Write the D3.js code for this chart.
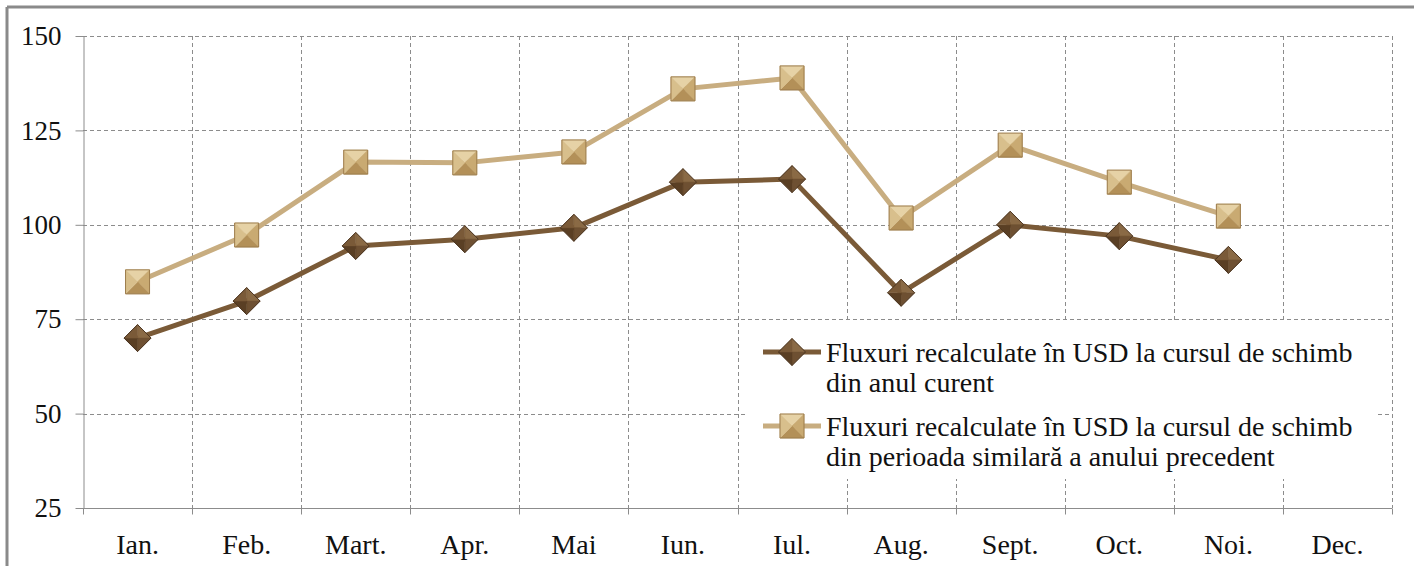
<!DOCTYPE html>
<html>
<head>
<meta charset="utf-8">
<script src="https://cdn.jsdelivr.net/npm/d3@7"></script>
<style>
  body { margin: 0; background: #fff; }
  text { font-family: "Liberation Serif", "Times New Roman", serif; fill: #111; }
</style>
</head>
<body>
<div id="chart"></div>
<script>
// data
const months = ["Ian.", "Feb.", "Mart.", "Apr.", "Mai", "Iun.", "Iul.", "Aug.", "Sept.", "Oct.", "Noi.", "Dec."];
const curentValues = [70.0, 79.8, 94.4, 96.2, 99.2, 111.3, 112.1, 82.0, 100.0, 97.0, 90.7];
const precedentValues = [84.9, 97.3, 116.6, 116.4, 119.3, 136.0, 138.9, 101.8, 121.1, 111.3, 102.3];
const yTicks = [25, 50, 75, 100, 125, 150];
const seriesNames = [
    ["Fluxuri recalculate în USD la cursul de schimb", "din anul curent"],
    ["Fluxuri recalculate în USD la cursul de schimb", "din perioada similară a anului precedent"]
];

const width = 1414, height = 566;
const margin = {top: 36, right: 22, bottom: 58, left: 83};

const svg = d3.select("#chart").append("svg")
    .attr("width", width)
    .attr("height", height);

// outer frame (only top and left edge visible in the crop)
svg.append("line").attr("x1", 7).attr("y1", 7).attr("x2", width).attr("y2", 7)
    .attr("stroke", "#8a8a8a").attr("stroke-width", 3);
svg.append("line").attr("x1", 7).attr("y1", 7).attr("x2", 7).attr("y2", height)
    .attr("stroke", "#8a8a8a").attr("stroke-width", 3);

let xScale = d3.scaleBand()
    .domain(months)
    .range([margin.left, width - margin.right])
    .padding(0);

let yScale = d3.scaleLinear()
    .domain([25, 150])
    .range([height - margin.bottom, margin.top]);

const x0 = margin.left, x1 = width - margin.right;
const y0 = height - margin.bottom, y1 = margin.top;

// horizontal grid
let grid = svg.append("g").attr("id", "grid");
grid.selectAll(".hgrid").data(yTicks.filter(d => d > 25)).enter().append("line")
    .attr("class", "hgrid")
    .attr("x1", x0).attr("x2", x1)
    .attr("y1", d => Math.round(yScale(d)) + 0.5)
    .attr("y2", d => Math.round(yScale(d)) + 0.5)
    .attr("stroke", "#8c8c8c").attr("stroke-width", 1)
    .style("stroke-dasharray", "4,3");

// vertical grid at category boundaries
const bounds = months.map(m => xScale(m)).concat([x1]).slice(1);
grid.selectAll(".vgrid").data(bounds).enter().append("line")
    .attr("class", "vgrid")
    .attr("x1", d => Math.round(d) + 0.5).attr("x2", d => Math.round(d) + 0.5)
    .attr("y1", y1).attr("y2", y0)
    .attr("stroke", "#8c8c8c").attr("stroke-width", 1)
    .style("stroke-dasharray", "4,3");

// axes
let yAxis = d3.axisLeft(yScale).tickValues(yTicks).tickSize(8).tickPadding(14).tickSizeOuter(0);
let yAx = svg.append("g")
    .attr("transform", "translate(" + (x0 + 0.5) + ",0)")
    .call(yAxis);
yAx.select(".domain").attr("stroke", "#8c8c8c");
yAx.selectAll(".tick line").attr("stroke", "#8c8c8c");
yAx.selectAll(".tick text").style("font-size", "27px").attr("fill", "#111");

let xAx = svg.append("g").attr("transform", "translate(0," + (Math.round(y0) + 0.5) + ")");
xAx.append("line").attr("x1", x0).attr("x2", x1).attr("stroke", "#8c8c8c");
xAx.selectAll(".xtick").data([x0].concat(bounds)).enter().append("line")
    .attr("x1", d => Math.round(d) + 0.5).attr("x2", d => Math.round(d) + 0.5)
    .attr("y1", 0).attr("y2", 6).attr("stroke", "#8c8c8c");
xAx.selectAll(".xlabel").data(months).enter().append("text")
    .attr("x", d => xScale(d) + xScale.bandwidth() / 2)
    .attr("y", 45)
    .attr("text-anchor", "middle")
    .style("font-size", "28px")
    .text(d => d);

const cx = i => xScale(months[i]) + xScale.bandwidth() / 2;

// series colours
const darkLine = "#7a5a37", lightLine = "#c8ad80";

// bevelled marker drawing (4 facets like the pyramid markers)
function drawMarker(g, x, y, type, shades) {
    let s = type === "square" ? 12 : 13.5;
    let pts;
    if (type === "square") {
        pts = [[x - s, y - s], [x + s, y - s], [x + s, y + s], [x - s, y + s]];
    } else {
        pts = [[x, y - s], [x + s, y], [x, y + s], [x - s, y]];
    }
    for (let k = 0; k < 4; k++) {
        let a = pts[k], b = pts[(k + 1) % 4];
        g.append("path")
            .attr("d", "M" + a + "L" + b + "L" + x + "," + y + "Z")
            .attr("fill", shades[k]).attr("stroke", shades[k]).attr("stroke-width", 0.5);
    }
    g.append("path")
        .attr("d", "M" + pts.join("L") + "Z")
        .attr("fill", "none").attr("stroke", shades[4]).attr("stroke-width", 1);
}

const darkShades = ["#8a6a45", "#6e5032", "#5a3f24", "#7a5a38", "#4a3420"];
const lightShades = ["#e6d2a6", "#c9aa72", "#b39058", "#d8bf8c", "#9c7c4c"];

let line = d3.line().x((d, i) => cx(i)).y(d => yScale(d));

let plot = svg.append("g").attr("id", "plot");

plot.append("path").datum(curentValues)
    .attr("d", line).attr("fill", "none")
    .attr("stroke", darkLine).attr("stroke-width", 5).attr("stroke-linejoin", "round");
plot.append("path").datum(precedentValues)
    .attr("d", line).attr("fill", "none")
    .attr("stroke", lightLine).attr("stroke-width", 5).attr("stroke-linejoin", "round");

curentValues.forEach((v, i) => drawMarker(plot.append("g"), cx(i), yScale(v), "diamond", darkShades));
precedentValues.forEach((v, i) => drawMarker(plot.append("g"), cx(i), yScale(v), "square", lightShades));

// legend
let legend = svg.append("g").attr("id", "legend");
legend.append("rect").attr("x", 745).attr("y", 323).attr("width", 630).attr("height", 156).attr("fill", "#fff");
const legendItems = [
    {names: seriesNames[0], color: darkLine, type: "diamond", shades: darkShades, y: 352},
    {names: seriesNames[1], color: lightLine, type: "square", shades: lightShades, y: 426}
];
legendItems.forEach(item => {
    legend.append("line").attr("x1", 763).attr("x2", 821)
        .attr("y1", item.y).attr("y2", item.y)
        .attr("stroke", item.color).attr("stroke-width", 5);
    drawMarker(legend.append("g"), 792, item.y, item.type, item.shades);
    item.names.forEach((t, k) => {
        legend.append("text")
            .attr("x", 826).attr("y", item.y + 10 + k * 30)
            .style("font-size", "28px")
            .text(t);
    });
});
</script>
</body>
</html>
